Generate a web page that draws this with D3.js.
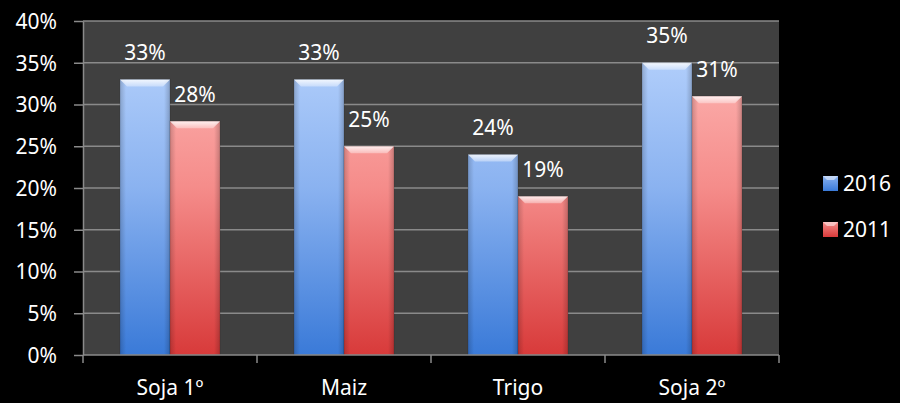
<!DOCTYPE html>
<html><head><meta charset="utf-8">
<script src="https://cdnjs.cloudflare.com/ajax/libs/d3/7.8.5/d3.min.js"></script>
<style>html,body{margin:0;padding:0;background:#000;}svg{display:block;}</style>
</head><body>
<svg id="chart" width="900" height="403"></svg>
<script>
const categories = ["Soja 1º", "Maiz", "Trigo", "Soja 2º"];
const seriesNames = ["2016", "2011"];
const values2016 = [33, 33, 24, 35];
const values2011 = [28, 25, 19, 31];
const yTicks = [0, 5, 10, 15, 20, 25, 30, 35, 40];

const seriesValues = {"2016": values2016, "2011": values2011};
const FONT = "'Noto Sans', sans-serif";
const FS = 21;
const svg = d3.select("#chart");
const W = 900, H = 403;
const plot = {left: 83, right: 779, top: 21, bottom: 355};

svg.append("rect").attr("width", W).attr("height", H).attr("fill", "#000");

const defs = svg.append("defs");
const palette = {
  "2016": {top: "#bcd6fe", mid: "#8ab2f0", bottom: "#3a7ad8"},
  "2011": {top: "#ffbebc", mid: "#f58c8a", bottom: "#d83a3a"}
};
seriesNames.forEach((s, i) => {
  const g = defs.append("linearGradient").attr("id", "grad" + i).attr("gradientUnits", "userSpaceOnUse")
    .attr("x1", 0).attr("y1", plot.top).attr("x2", 0).attr("y2", plot.bottom);
  g.append("stop").attr("offset", "0%").attr("stop-color", palette[s].top);
  g.append("stop").attr("offset", "50%").attr("stop-color", palette[s].mid);
  g.append("stop").attr("offset", "100%").attr("stop-color", palette[s].bottom);
  const lg = defs.append("linearGradient").attr("id", "lgrad" + i).attr("x1", 0).attr("y1", 0).attr("x2", 0).attr("y2", 1);
  lg.append("stop").attr("offset", "0%").attr("stop-color", palette[s].mid);
  lg.append("stop").attr("offset", "100%").attr("stop-color", palette[s].bottom);
});
const hg = defs.append("linearGradient").attr("id", "hshade").attr("x1", 0).attr("y1", 0).attr("x2", 1).attr("y2", 0);
hg.append("stop").attr("offset", "0%").attr("stop-color", "#000").attr("stop-opacity", 0.18);
hg.append("stop").attr("offset", "12%").attr("stop-color", "#000").attr("stop-opacity", 0);
hg.append("stop").attr("offset", "88%").attr("stop-color", "#000").attr("stop-opacity", 0);
hg.append("stop").attr("offset", "100%").attr("stop-color", "#000").attr("stop-opacity", 0.2);
const bev = defs.append("linearGradient").attr("id", "bevel").attr("x1", 0).attr("y1", 0).attr("x2", 0).attr("y2", 1);
bev.append("stop").attr("offset", "0%").attr("stop-color", "#fff").attr("stop-opacity", 0.85);
bev.append("stop").attr("offset", "100%").attr("stop-color", "#fff").attr("stop-opacity", 0.35);

const x0 = d3.scaleBand().domain(categories).range([plot.left, plot.right]).paddingInner(0.425).paddingOuter(0.2125);
const x1 = d3.scaleBand().domain(seriesNames).range([0, x0.bandwidth()]).padding(0);
const y = d3.scaleLinear().domain([0, 40]).range([plot.bottom, plot.top]);

// plot background
svg.append("rect").attr("x", plot.left).attr("y", plot.top).attr("width", plot.right - plot.left).attr("height", plot.bottom - plot.top).attr("fill", "#404040");

// gridlines + y axis
const yAxis = d3.axisLeft(y).tickValues(yTicks).tickFormat(d => d + "%").tickSize(9).tickSizeOuter(0);
const ya = svg.append("g").attr("transform", `translate(${plot.left},0)`).call(yAxis);
ya.select(".domain").attr("stroke", "#8a8a8a").attr("stroke-width", 1.5);
ya.selectAll(".tick line").attr("stroke", "#8a8a8a").attr("stroke-width", 1.5);
ya.selectAll(".tick text").attr("fill", "#fff").attr("font-family", FONT).attr("font-size", FS).attr("x", -26).attr("dy", "0.35em");
svg.append("g").selectAll("line").data(yTicks.filter(d => d > 0)).join("line")
  .attr("x1", plot.left).attr("x2", plot.right).attr("y1", d => y(d)).attr("y2", d => y(d))
  .attr("stroke", "#8a8a8a").attr("stroke-width", 1.5);

// bars
const groups = svg.append("g").selectAll("g").data(categories).join("g").attr("transform", d => `translate(${x0(d)},0)`);
seriesNames.forEach((s, si) => {
  groups.each(function(cat, ci) {
    const g = d3.select(this);
    const v = seriesValues[s][ci];
    const bx = x1(s), bw = x1.bandwidth(), by = y(v), bh = y(0) - y(v);
    g.append("rect").attr("x", bx).attr("y", by).attr("width", bw).attr("height", bh).attr("fill", `url(#grad${si})`);
    g.append("rect").attr("x", bx).attr("y", by).attr("width", bw).attr("height", bh).attr("fill", "url(#hshade)");
    const b = 7;
    g.append("polygon").attr("points", `${bx},${by} ${bx + bw},${by} ${bx + bw - b},${by + b} ${bx + b},${by + b}`)
      .attr("fill", "url(#bevel)");
    g.append("rect").attr("x", bx).attr("y", by).attr("width", bw).attr("height", bh).attr("fill", "none")
      .attr("stroke", "#000").attr("stroke-opacity", 0.15).attr("stroke-width", 1);
    g.append("text").attr("x", bx + bw / 2).attr("y", by - 27).attr("dy", "0.35em").attr("text-anchor", "middle")
      .attr("fill", "#fff").attr("font-family", FONT).attr("font-size", FS).text(v + "%");
  });
});

// x axis
svg.append("line").attr("x1", plot.left).attr("x2", plot.right).attr("y1", plot.bottom).attr("y2", plot.bottom).attr("stroke", "#8a8a8a").attr("stroke-width", 1.5);
const boundaries = [plot.left].concat(categories.map(c => x0(c) + x0.bandwidth() + x0.step() * 0.2125));
svg.append("g").selectAll("line").data(boundaries).join("line")
  .attr("x1", d => d).attr("x2", d => d).attr("y1", plot.bottom).attr("y2", plot.bottom + 8)
  .attr("stroke", "#8a8a8a").attr("stroke-width", 1.5);
svg.append("g").selectAll("text").data(categories).join("text")
  .attr("x", d => x0(d) + x0.bandwidth() / 2).attr("y", 395).attr("text-anchor", "middle")
  .attr("fill", "#fff").attr("font-family", FONT).attr("font-size", FS).text(d => d);

// legend
const leg = svg.append("g").selectAll("g").data(seriesNames).join("g")
  .attr("transform", (d, i) => `translate(823,${176 + i * 46})`);
leg.append("rect").attr("width", 15).attr("height", 15).attr("fill", (d, i) => `url(#lgrad${i})`);
leg.append("polygon").attr("points", "0,0 15,0 11,4 4,4").attr("fill", "#fff").attr("opacity", 0.5);
leg.append("text").attr("x", 20).attr("y", 8).attr("dy", "0.35em").attr("fill", "#fff").attr("font-family", FONT).attr("font-size", FS).text(d => d);
</script>
</body></html>
